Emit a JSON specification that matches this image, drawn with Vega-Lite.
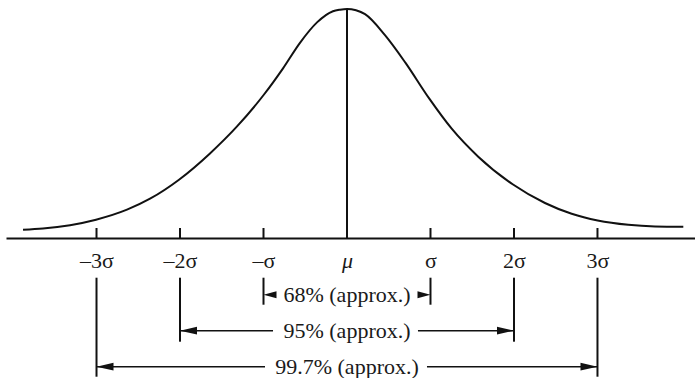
{
  "$schema": "https://vega.github.io/schema/vega-lite/v6.json",
  "width": 689,
  "height": 238,
  "autosize": {"type": "none"},
  "padding": {"left": 6, "top": 0, "right": 0, "bottom": 140},
  "background": "white",
  "config": {"view": {"stroke": null}},
  "datasets": {
    "curve": [
      {"z": -3.88, "h": 0.0362}, {"z": -3.641, "h": 0.0415}, {"z": -3.317, "h": 0.056},
      {"z": -3.006, "h": 0.0799}, {"z": -2.635, "h": 0.1236}, {"z": -2.359, "h": 0.1716},
      {"z": -2.012, "h": 0.2546}, {"z": -1.641, "h": 0.3694}, {"z": -1.317, "h": 0.4873},
      {"z": -0.994, "h": 0.6266}, {"z": -0.766, "h": 0.741}, {"z": -0.563, "h": 0.8524},
      {"z": -0.359, "h": 0.9415}, {"z": -0.168, "h": 0.9904}, {"z": -0.084, "h": 0.997},
      {"z": 0.0, "h": 1.0}, {"z": 0.108, "h": 0.9943},
      {"z": 0.216, "h": 0.9773}, {"z": 0.455, "h": 0.8856}, {"z": 0.695, "h": 0.7677},
      {"z": 0.986, "h": 0.6083}, {"z": 1.254, "h": 0.4772}, {"z": 1.572, "h": 0.355},
      {"z": 1.984, "h": 0.2345}, {"z": 2.371, "h": 0.1528}, {"z": 2.691, "h": 0.1057},
      {"z": 3.002, "h": 0.0764}, {"z": 3.369, "h": 0.0576}, {"z": 3.689, "h": 0.0507},
      {"z": 4.028, "h": 0.0493}
    ],
    "vlines": [
      {"z": -3, "h": 0, "h2": 0.0437}, {"z": -2, "h": 0, "h2": 0.0437},
      {"z": -1, "h": 0, "h2": 0.0437}, {"z": 1, "h": 0, "h2": 0.0437},
      {"z": 2, "h": 0, "h2": 0.0437}, {"z": 3, "h": 0, "h2": 0.0437},
      {"z": 0, "h": 0, "h2": 1.0},
      {"z": -3, "h": -0.1734, "h2": -0.6057}, {"z": 3, "h": -0.1734, "h2": -0.6057},
      {"z": -2, "h": -0.1734, "h2": -0.4528}, {"z": 2, "h": -0.1734, "h2": -0.4528},
      {"z": -1, "h": -0.1734, "h2": -0.2913}, {"z": 1, "h": -0.1734, "h2": -0.2913}
    ],
    "shafts": [
      {"z": -2, "z2": -0.886, "h": -0.4048}, {"z": 0.85, "z2": 2, "h": -0.4048},
      {"z": -3, "z2": -0.982, "h": -0.562}, {"z": 0.958, "z2": 3, "h": -0.562}
    ],
    "headsLeft": [
      {"z": -2, "h": -0.4048}, {"z": -3, "h": -0.562}
    ],
    "headsRight": [
      {"z": 2, "h": -0.4048}, {"z": 3, "h": -0.562}
    ],
    "smallLeft": [{"z": -1, "h": -0.2476}],
    "smallRight": [{"z": 1, "h": -0.2476}],
    "labels": [
      {"z": 0, "h": -0.2476, "label": "68% (approx.)"},
      {"z": 0, "h": -0.4048, "label": "95% (approx.)"},
      {"z": 0, "h": -0.562, "label": "99.7% (approx.)"}
    ]
  },
  "encoding": {
    "x": {
      "field": "z",
      "type": "quantitative",
      "scale": {"domain": [-4.084, 4.168], "nice": false, "zero": false},
      "axis": {
        "values": [-3, -2, -1, 0, 1, 2, 3],
        "title": null,
        "grid": false,
        "ticks": false,
        "domain": true,
        "domainColor": "#111111",
        "domainWidth": 2,
        "labelPadding": 12,
        "labelFont": "Liberation Serif",
        "labelFontSize": 22,
        "labelColor": "#1a1a1a",
        "labelFontStyle": {"condition": {"test": "datum.value == 0", "value": "italic"}, "value": "normal"},
        "labelExpr": "datum.value == -3 ? '–3σ' : datum.value == -2 ? '–2σ' : datum.value == -1 ? '–σ' : datum.value == 0 ? 'μ' : datum.value == 1 ? 'σ' : datum.value == 2 ? '2σ' : '3σ'"
      }
    },
    "y": {
      "field": "h",
      "type": "quantitative",
      "scale": {"domain": [0, 1.0393], "nice": false, "zero": false},
      "axis": null
    }
  },
  "layer": [
    {
      "data": {"name": "curve"},
      "mark": {"type": "line", "interpolate": "monotone", "color": "#111111", "strokeWidth": 2}
    },
    {
      "data": {"name": "vlines"},
      "mark": {"type": "rule", "color": "#111111", "strokeWidth": 2},
      "encoding": {"y2": {"field": "h2"}}
    },
    {
      "data": {"name": "shafts"},
      "mark": {"type": "rule", "color": "#111111", "strokeWidth": 1.5},
      "encoding": {"x2": {"field": "z2"}}
    },
    {
      "data": {"name": "headsLeft"},
      "mark": {"type": "point", "shape": "M0,0L2,-0.45L2,0.45Z", "filled": true, "size": 289, "color": "#111111", "opacity": 1, "strokeWidth": 0}
    },
    {
      "data": {"name": "headsRight"},
      "mark": {"type": "point", "shape": "M0,0L-2,-0.45L-2,0.45Z", "filled": true, "size": 289, "color": "#111111", "opacity": 1, "strokeWidth": 0}
    },
    {
      "data": {"name": "smallLeft"},
      "mark": {"type": "point", "shape": "M0,0L2,-0.55L2,0.55Z", "filled": true, "size": 169, "color": "#111111", "opacity": 1, "strokeWidth": 0}
    },
    {
      "data": {"name": "smallRight"},
      "mark": {"type": "point", "shape": "M0,0L-2,-0.55L-2,0.55Z", "filled": true, "size": 169, "color": "#111111", "opacity": 1, "strokeWidth": 0}
    },
    {
      "data": {"name": "labels"},
      "mark": {"type": "text", "font": "Liberation Serif", "fontSize": 22, "color": "#1a1a1a", "align": "center", "baseline": "middle"},
      "encoding": {"text": {"field": "label"}}
    }
  ]
}
